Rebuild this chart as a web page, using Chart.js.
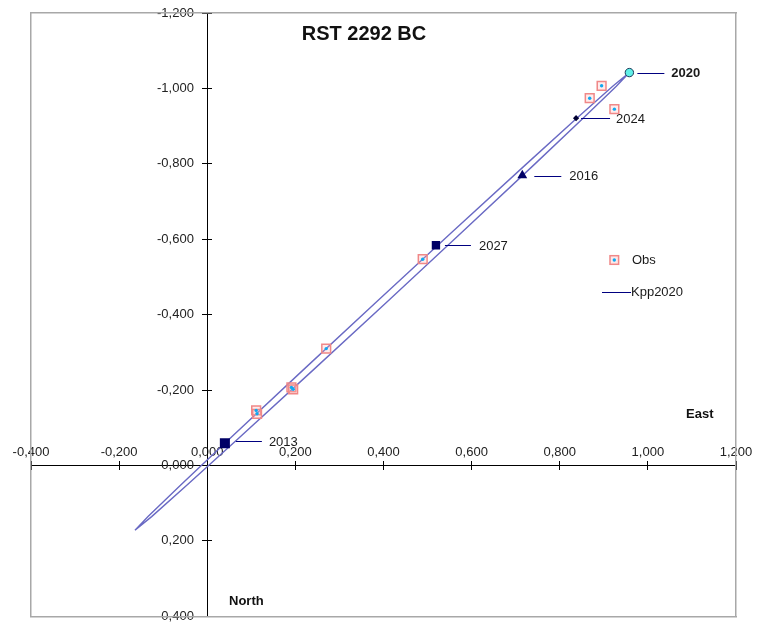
<!DOCTYPE html>
<html><head><meta charset="utf-8">
<script src="https://cdn.jsdelivr.net/npm/chart.js@4.4.1/dist/chart.umd.min.js"></script>
<style>html,body{margin:0;padding:0;background:#fff;}#wrap{position:relative;width:764px;height:624px;}</style>
</head><body><div id="wrap"><canvas id="c" width="764" height="624"></canvas></div>
<script>
// ---- data ----
const chartTitle = 'RST 2292 BC';
const xTickValues = [-0.4, -0.2, 0, 0.2, 0.4, 0.6, 0.8, 1.0, 1.2];
const yTickValues = [-1.2, -1.0, -0.8, -0.6, -0.4, -0.2, 0, 0.2, 0.4];
const orbitLabel = 'Kpp2020';
const orbitX = [-0.164, -0.1344, -0.0590, 0.0508, 0.2173, 0.385, 0.5539, 0.7240, 0.8386, 0.9202, 0.958, 0.9284, 0.8530, 0.7432, 0.5767, 0.409, 0.2401, 0.0700, -0.0446, -0.1262, -0.164];
const orbitY = [0.172, 0.1356, 0.0506, -0.0708, -0.2529, -0.435, -0.6171, -0.7992, -0.9206, -1.0056, -1.042, -1.0056, -0.9206, -0.7992, -0.6171, -0.435, -0.2529, -0.0708, 0.0506, 0.1356, 0.172];
const obsLabel = 'Obs';
const obsX = [0.111, 0.113, 0.191, 0.195, 0.270, 0.489, 0.868, 0.895, 0.924];
const obsY = [-0.146, -0.137, -0.207, -0.202, -0.310, -0.547, -0.974, -1.007, -0.945];
const yearLabels = ['2013', '2016', '2020', '2024', '2027'];
const yearX = [0.040, 0.715, 0.958, 0.837, 0.519];
const yearY = [-0.059, -0.769, -1.042, -0.921, -0.584];
const eastLabel = 'East';
const northLabel = 'North';

// ---- styles ----
const FONT = '"Liberation Sans", Arial, sans-serif';
const TXT = '#1a1a1a';
const NAVY = '#000066';
const zip = (xs, ys) => xs.map((v, i) => ({x: v, y: ys[i]}));
const fmt = v => (Math.abs(v) < 1e-9 ? 0 : v).toFixed(3).replace('.', ',');
const setTicks = vals => s => { s.ticks = vals.map(v => ({value: v})); };
const yearStyle = [
  {style: 'rect', r: 7.1, l0: 11, l1: 37, tx: 44, dy: -2, bold: false},
  {style: 'triangle', r: 5.7, l0: 12, l1: 39, tx: 47, dy: 0, bold: false},
  {style: 'circle', r: 4.2, l0: 8, l1: 35, tx: 42, dy: 0, bold: true},
  {style: 'rectRot', r: 3.1, l0: 5, l1: 34, tx: 40, dy: 0, bold: false},
  {style: 'rect', r: 5.9, l0: 9, l1: 35, tx: 43, dy: 0, bold: false}
];

const borderAxis = (axis, pos, min, max, rev) => ({
  type: 'linear', axis, position: pos, min, max, reverse: !!rev,
  grid: {display: false, drawTicks: false}, ticks: {display: false},
  border: {display: true, color: '#a8a8a8', width: 1.5}
});

const annot = {
  id: 'annot',
  afterDatasetsDraw(chart) {
    const {ctx} = chart;
    const sx = chart.scales.x, sy = chart.scales.y;
    ctx.save();
    ctx.textBaseline = 'middle';
    ctx.fillStyle = '#111';
    ctx.textAlign = 'center';
    ctx.font = 'bold 20px ' + FONT;
    ctx.fillText(chartTitle, 364, 34);
    ctx.textAlign = 'left';
    ctx.font = 'bold 13px ' + FONT;
    ctx.fillText(eastLabel, 686, 414);
    ctx.fillText(northLabel, 229, 601);
    yearLabels.forEach((lab, i) => {
      const st = yearStyle[i];
      const px = sx.getPixelForValue(yearX[i]);
      const py = sy.getPixelForValue(yearY[i]) + st.dy;
      ctx.strokeStyle = '#000080';
      ctx.lineWidth = 1;
      ctx.beginPath();
      ctx.moveTo(px + st.l0, Math.round(py) + 0.5);
      ctx.lineTo(px + st.l1, Math.round(py) + 0.5);
      ctx.stroke();
      ctx.fillStyle = TXT;
      ctx.font = (st.bold ? 'bold ' : '') + '13px ' + FONT;
      ctx.fillText(lab, px + st.tx, py + 1);
    });
    // legend
    ctx.fillStyle = 'rgba(255,180,180,0.3)';
    ctx.fillRect(610, 255.7, 8.6, 8.6);
    ctx.strokeStyle = '#f08888'; ctx.lineWidth = 1.5;
    ctx.strokeRect(610, 255.7, 8.6, 8.6);
    ctx.fillStyle = '#10a8f0';
    ctx.beginPath(); ctx.arc(614.3, 260, 1.7, 0, Math.PI * 2); ctx.fill();
    ctx.fillStyle = TXT; ctx.font = '13px ' + FONT;
    ctx.fillText(obsLabel, 632, 260);
    ctx.strokeStyle = '#000080'; ctx.lineWidth = 1;
    ctx.beginPath(); ctx.moveTo(602, 292.5); ctx.lineTo(631, 292.5); ctx.stroke();
    ctx.fillText(orbitLabel, 631, 292.5);
    ctx.restore();
  }
};

new Chart(document.getElementById('c'), {
  type: 'scatter',
  data: {
    datasets: [
      {
        label: 'years', order: 0, data: zip(yearX, yearY), showLine: false,
        pointStyle: yearStyle.map(s => s.style), pointRadius: yearStyle.map(s => s.r),
        pointBackgroundColor: [NAVY, NAVY, '#60f0e8', '#000033', NAVY],
        pointBorderColor: [NAVY, NAVY, '#1a3a5a', '#000033', NAVY],
        pointBorderWidth: [0, 0, 1, 0, 0]
      },
      {
        label: obsLabel + ' dot', order: 1, data: zip(obsX, obsY), showLine: false,
        pointStyle: 'circle', pointRadius: 1.7, pointBackgroundColor: '#10a8f0', pointBorderWidth: 0
      },
      {
        label: obsLabel, order: 2, data: zip(obsX, obsY), showLine: false,
        pointStyle: 'rect', pointRadius: 6.2, pointBackgroundColor: 'rgba(255,180,180,0.25)',
        pointBorderColor: '#f08888', pointBorderWidth: 1.5
      },
      {
        label: orbitLabel, order: 3, data: zip(orbitX, orbitY), showLine: true,
        borderColor: '#6a6ac4', borderWidth: 1.4, pointRadius: 0, tension: 0, fill: false
      }
    ]
  },
  options: {
    responsive: false, animation: false, devicePixelRatio: 1, events: [],
    layout: {padding: {left: 31, top: 13, right: 28, bottom: 5}},
    plugins: {legend: {display: false}, tooltip: {enabled: false}, title: {display: false}},
    scales: {
      x: {
        type: 'linear', axis: 'x', min: -0.4, max: 1.2, position: {y: 0},
        afterBuildTicks: setTicks(xTickValues),
        grid: {display: true, drawOnChartArea: false, drawTicks: true, tickLength: 4, tickColor: '#000', tickWidth: 1},
        border: {display: true, color: '#000', width: 1},
        ticks: {display: true, padding: -25, maxRotation: 0, autoSkip: false, color: '#222', font: {family: FONT, size: 13}, callback: fmt}
      },
      x2: {
        type: 'linear', axis: 'x', min: -0.4, max: 1.2, position: {y: 0},
        afterBuildTicks: setTicks(xTickValues),
        grid: {display: true, drawOnChartArea: false, drawTicks: true, tickLength: -4, tickColor: '#000', tickWidth: 1},
        border: {display: false}, ticks: {display: false}
      },
      y: {
        type: 'linear', axis: 'y', min: -1.2, max: 0.4, reverse: true, position: {x: 0},
        afterBuildTicks: setTicks(yTickValues),
        grid: {display: true, drawOnChartArea: false, drawTicks: true, tickLength: 5, tickColor: '#000', tickWidth: 1},
        border: {display: true, color: '#000', width: 1},
        ticks: {display: false}
      },
      y2: {
        type: 'linear', axis: 'y', min: -1.2, max: 0.4, reverse: true, position: {x: 0},
        afterBuildTicks: setTicks(yTickValues),
        grid: {display: true, drawOnChartArea: false, drawTicks: true, tickLength: -5, tickColor: '#000', tickWidth: 1},
        border: {display: false}, ticks: {display: false}
      },
      yLab: {
        type: 'linear', axis: 'y', min: -1.2, max: 0.4, reverse: true, position: {x: -0.0304},
        afterBuildTicks: setTicks(yTickValues),
        grid: {display: false, drawTicks: false}, border: {display: false},
        ticks: {display: true, padding: 0, autoSkip: false, color: '#222', font: {family: FONT, size: 13, lineHeight: 1}, callback: fmt}
      },
      xTop: borderAxis('x', 'top', -0.4, 1.2),
      xBot: borderAxis('x', 'bottom', -0.4, 1.2),
      yLeft: borderAxis('y', 'left', -1.2, 0.4, true),
      yRight: borderAxis('y', 'right', -1.2, 0.4, true)
    }
  },
  plugins: [annot]
});
</script></body></html>
